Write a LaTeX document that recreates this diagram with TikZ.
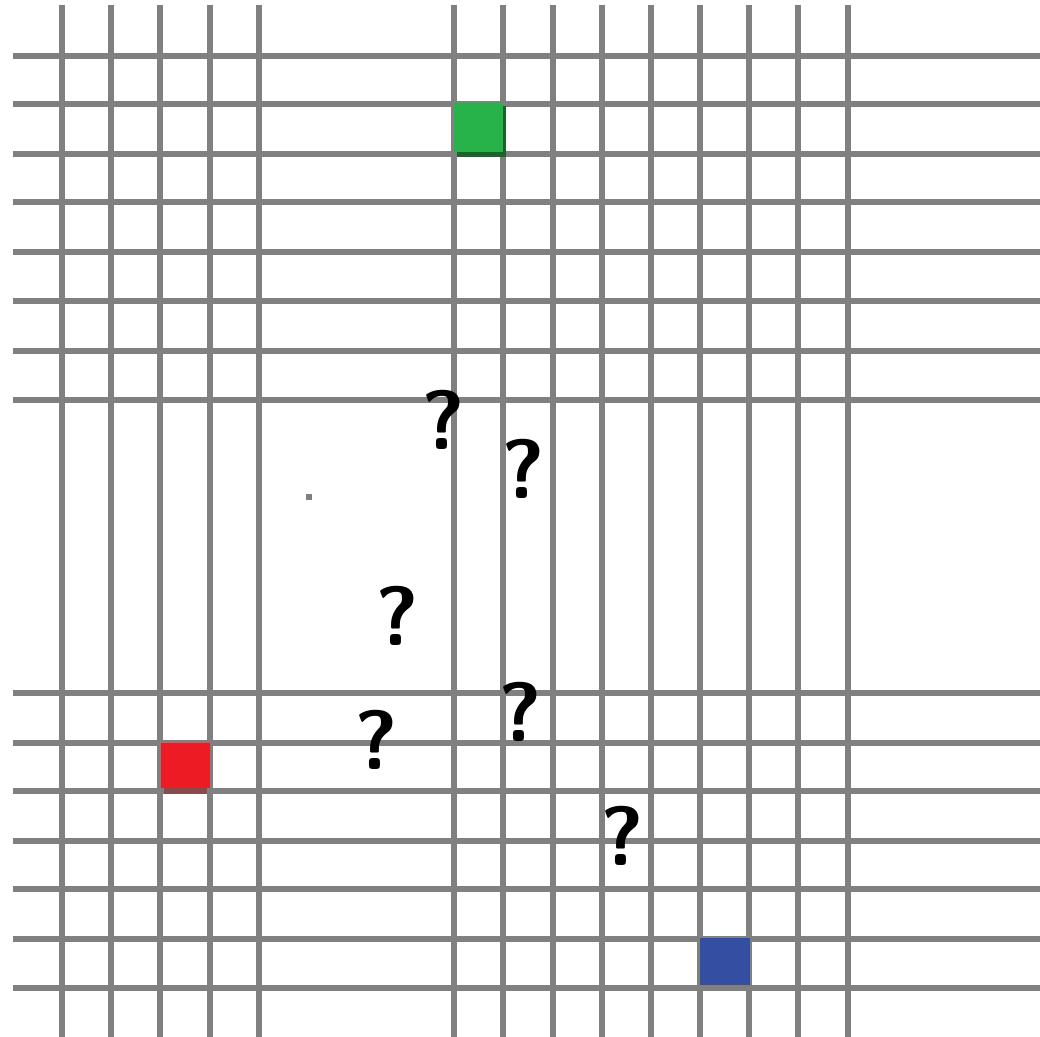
\documentclass[tikz,border=0pt]{standalone}
\usepackage{tikz}
\definecolor{gridgray}{HTML}{808080}
\definecolor{cellgreen}{HTML}{27B34A}
\definecolor{cellgreendark}{HTML}{17652B}
\definecolor{cellred}{HTML}{ED1C24}
\definecolor{cellreddark}{HTML}{8A4A4C}
\definecolor{cellblue}{HTML}{344EA1}
\begin{document}
\begin{tikzpicture}[x=0.5pt,y=-0.5pt,
  gridline/.style={gridgray,line width=3.3pt},
  qmark/.style={font=\fontsize{42}{42}\selectfont\sffamily\bfseries,inner sep=0pt}]
\useasboundingbox (0,0) rectangle (1040,1037);
% vertical lines
\draw[gridline] (62,5) -- (62,1037);
\draw[gridline] (111,5) -- (111,1037);
\draw[gridline] (160,5) -- (160,1037);
\draw[gridline] (210,5) -- (210,1037);
\draw[gridline] (259,5) -- (259,1037);
\draw[gridline] (454,5) -- (454,1037);
\draw[gridline] (503,5) -- (503,1037);
\draw[gridline] (553,5) -- (553,1037);
\draw[gridline] (602,5) -- (602,1037);
\draw[gridline] (651,5) -- (651,1037);
\draw[gridline] (700,5) -- (700,1037);
\draw[gridline] (749,5) -- (749,1037);
\draw[gridline] (798,5) -- (798,1037);
\draw[gridline] (848,5) -- (848,1037);
% horizontal lines
\draw[gridline] (13,56) -- (1040,56);
\draw[gridline] (13,104) -- (1040,104);
\draw[gridline] (13,154) -- (1040,154);
\draw[gridline] (13,202) -- (1040,202);
\draw[gridline] (13,252) -- (1040,252);
\draw[gridline] (13,301) -- (1040,301);
\draw[gridline] (13,351) -- (1040,351);
\draw[gridline] (13,400) -- (1040,400);
\draw[gridline] (13,693) -- (1040,693);
\draw[gridline] (13,743) -- (1040,743);
\draw[gridline] (13,791) -- (1040,791);
\draw[gridline] (13,841) -- (1040,841);
\draw[gridline] (13,889) -- (1040,889);
\draw[gridline] (13,939) -- (1040,939);
\draw[gridline] (13,988) -- (1040,988);
\fill[gridgray] (306,494) rectangle (312,500);
% cells
\fill[cellgreendark] (457,106) rectangle (506,157);
\fill[cellgreen] (454,103) rectangle (503,152);
\fill[cellreddark] (164,746) rectangle (207,794);
\fill[cellred] (161,743) rectangle (210,788);
\fill[cellblue] (700,938) rectangle (750,985);
% question marks
\node[qmark] (q1) at (443,420) {?};
\node[qmark] (q2) at (523,469) {?};
\node[qmark] (q3) at (397,616) {?};
\node[qmark] (q4) at (520,712) {?};
\node[qmark] (q5) at (376,740) {?};
\node[qmark] (q6) at (622,836) {?};
\end{tikzpicture}
\end{document}
